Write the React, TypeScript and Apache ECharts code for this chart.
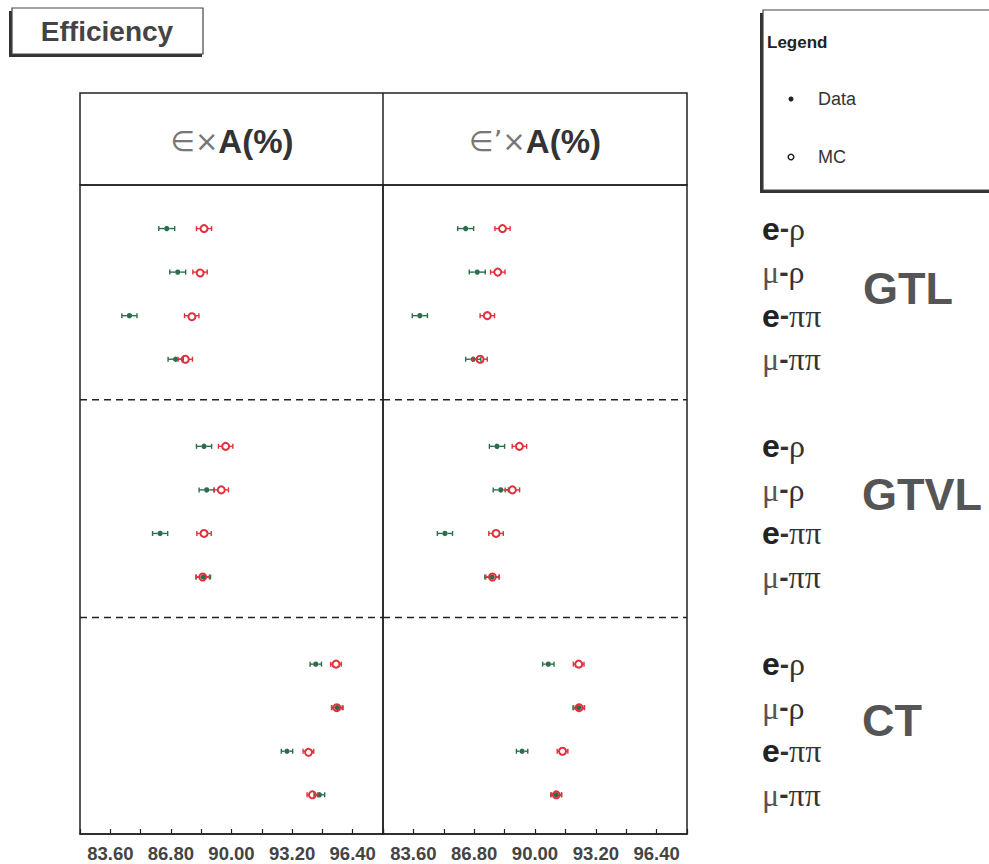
import React, { useEffect, useRef } from "react";
import * as echarts from "echarts";

// ---- data ----
const triggers = ["GTL", "GTVL", "CT"];
const channels = ["e-ρ", "μ-ρ", "e-ππ", "μ-ππ"];
const tickLabels = ["83.60", "86.80", "90.00", "93.20", "96.40"];

// ε×A(%) panel  (order: GTL e-ρ, μ-ρ, e-ππ, μ-ππ, GTVL ..., CT ...)
const effData = [86.58, 87.16, 84.61, 87.05, 88.55, 88.69, 86.23, 88.51, 94.45, 95.59, 92.93, 94.64];
const effDataErr = [0.42, 0.42, 0.4, 0.4, 0.4, 0.4, 0.4, 0.38, 0.3, 0.3, 0.3, 0.28];
const effMC = [88.55, 88.34, 87.9, 87.56, 89.69, 89.46, 88.55, 88.48, 95.52, 95.56, 94.06, 94.27];
const effMCErr = [0.4, 0.38, 0.38, 0.38, 0.38, 0.38, 0.38, 0.35, 0.28, 0.28, 0.28, 0.28];

// ε'×A(%) panel
const effPData = [86.35, 86.96, 83.94, 86.75, 88.0, 88.2, 85.26, 87.74, 90.7, 92.3, 89.32, 91.12];
const effPDataErr = [0.42, 0.42, 0.4, 0.4, 0.4, 0.4, 0.4, 0.38, 0.3, 0.3, 0.3, 0.28];
const effPMC = [88.29, 88.04, 87.49, 87.11, 89.18, 88.81, 87.95, 87.76, 92.3, 92.32, 91.45, 91.12];
const effPMCErr = [0.4, 0.38, 0.38, 0.38, 0.38, 0.38, 0.38, 0.35, 0.28, 0.28, 0.28, 0.28];

const GREEN = "#2c6e4c";
const RED = "#e2303c";
const INK = "#222";

// row position of each point (group * 5 + channel)
const rowOf = (i: number) => Math.floor(i / 4) * 5 + (i % 4);
const toPoints = (vals: number[], errs: number[]) => vals.map((v, i) => [v, rowOf(i), errs[i]]);

function makeRender(kind: "data" | "mc") {
  return (params: any, api: any) => {
    const x = api.value(0);
    const y = api.value(1);
    const e = api.value(2);
    const c = api.coord([x, y]);
    const lo = api.coord([x - e, y]);
    const hi = api.coord([x + e, y]);
    const color = kind === "data" ? GREEN : RED;
    const r = kind === "data" ? 2.7 : 3.5;
    const cap = 2.5;
    const ls = { stroke: color, lineWidth: 1.4 };
    return {
      type: "group",
      children: [
        { type: "line", shape: { x1: lo[0], y1: c[1], x2: c[0] - r, y2: c[1] }, style: ls },
        { type: "line", shape: { x1: c[0] + r, y1: c[1], x2: hi[0], y2: c[1] }, style: ls },
        { type: "line", shape: { x1: lo[0], y1: c[1] - cap, x2: lo[0], y2: c[1] + cap }, style: ls },
        { type: "line", shape: { x1: hi[0], y1: c[1] - cap, x2: hi[0], y2: c[1] + cap }, style: ls },
        kind === "data"
          ? { type: "circle", shape: { cx: c[0], cy: c[1], r }, style: { fill: color } }
          : { type: "circle", shape: { cx: c[0], cy: c[1], r }, style: { fill: "none", stroke: color, lineWidth: 2 } },
      ],
    };
  };
}

const separators = [3.93, 8.93];
const sepRender = (params: any, api: any) => {
  const cs = params.coordSys;
  const p = api.coord([82, api.value(0)]);
  return {
    type: "line",
    shape: { x1: cs.x, y1: p[1], x2: cs.x + cs.width, y2: p[1] },
    style: { stroke: INK, lineWidth: 1.6, lineDash: [7, 5] },
  };
};

export default function App() {
  const ref = useRef<HTMLDivElement>(null);
  useEffect(() => {
    if (!ref.current) return;
    const chart = echarts.init(ref.current, null, { renderer: "svg" });

    const xAxisBase = (gridIndex: number) => ({
      type: "value",
      gridIndex,
      min: 82,
      max: 98,
      interval: 1.6,
      axisLine: { show: true, onZero: false, lineStyle: { color: INK, width: 1.5 } },
      axisTick: { show: true, inside: true, length: 5, lineStyle: { color: INK, width: 1.2 } },
      splitLine: { show: false },
      axisLabel: {
        margin: 10,
        color: "#444",
        fontFamily: "Liberation Sans, Arial, sans-serif",
        fontWeight: "bold",
        fontSize: 18.5,
        formatter: (v: number) => (tickLabels.includes(v.toFixed(2)) ? v.toFixed(2) : ""),
      },
    });

    const channelLabel = (v: number) => {
      const r = Math.round(v);
      if (Math.abs(v - r) > 1e-6 || r < 0) return "";
      const g = Math.floor(r / 5);
      const c = r % 5;
      if (c === 4 || g >= triggers.length) return "";
      const [lep, rest] = channels[c].split("-");
      return `{${lep === "e" ? "e" : "mu"}|${lep}}{d|-}{g|${rest}}`;
    };

    const yAxisBase = (gridIndex: number) => ({
      type: "value",
      gridIndex,
      inverse: true,
      min: -1,
      max: 13.9,
      interval: 1,
      axisLine: { show: false, onZero: false },
      axisTick: { show: false },
      splitLine: { show: false },
      axisLabel: { show: false },
    });

    const group = (name: string, x: number, y: number) => ({
      type: "text",
      x,
      y,
      style: {
        text: name,
        fill: "#555",
        font: "bold 45px 'Liberation Sans', Arial, sans-serif",
        textVerticalAlign: "middle",
      },
    });

    const headerRich = {
      l: { fontFamily: "DejaVu Sans, sans-serif", fontSize: 28, fill: "#777" },
      b: { fontFamily: "Liberation Sans, Arial, sans-serif", fontWeight: "bold", fontSize: 33, fill: "#333" },
    };

    const option: any = {
      animation: false,
      backgroundColor: "#fff",
      grid: [
        { left: 80, top: 185, width: 303, height: 649, show: true, borderColor: INK, borderWidth: 1.5, backgroundColor: "transparent" },
        { left: 383, top: 185, width: 304, height: 649, show: true, borderColor: INK, borderWidth: 1.5, backgroundColor: "transparent" },
      ],
      xAxis: [xAxisBase(0), xAxisBase(1)],
      yAxis: [
        yAxisBase(0),
        {
          ...yAxisBase(1),
          position: "right",
          axisLabel: {
            show: true,
            margin: 75,
            formatter: channelLabel,
            rich: {
              e: { fontFamily: "Liberation Sans, Arial, sans-serif", fontWeight: "bold", fontSize: 32, color: "#222" },
              mu: { fontFamily: "Liberation Serif, serif", fontSize: 32, color: "#555" },
              d: { fontFamily: "Liberation Sans, Arial, sans-serif", fontWeight: "bold", fontSize: 28, color: "#333" },
              g: { fontFamily: "Liberation Serif, serif", fontSize: 32, color: "#333" },
            },
          },
        },
      ],
      series: [
        { type: "custom", name: "sep", xAxisIndex: 0, yAxisIndex: 0, renderItem: sepRender, data: separators.map((s) => [s]), silent: true },
        { type: "custom", name: "sep", xAxisIndex: 1, yAxisIndex: 1, renderItem: sepRender, data: separators.map((s) => [s]), silent: true },
        { type: "custom", name: "Data", xAxisIndex: 0, yAxisIndex: 0, renderItem: makeRender("data"), data: toPoints(effData, effDataErr), encode: { x: 0, y: 1 } },
        { type: "custom", name: "MC", xAxisIndex: 0, yAxisIndex: 0, renderItem: makeRender("mc"), data: toPoints(effMC, effMCErr), encode: { x: 0, y: 1 } },
        { type: "custom", name: "Data", xAxisIndex: 1, yAxisIndex: 1, renderItem: makeRender("data"), data: toPoints(effPData, effPDataErr), encode: { x: 0, y: 1 } },
        { type: "custom", name: "MC", xAxisIndex: 1, yAxisIndex: 1, renderItem: makeRender("mc"), data: toPoints(effPMC, effPMCErr), encode: { x: 0, y: 1 } },
      ],
      graphic: [
        // title box
        { type: "rect", shape: { x: 9, y: 11, width: 193, height: 46 }, style: { fill: "#333" }, z: 1 },
        { type: "rect", shape: { x: 12, y: 8, width: 191, height: 46 }, style: { fill: "#fff", stroke: "#444", lineWidth: 1.2 }, z: 2 },
        {
          type: "text", x: 107, y: 31, z: 3,
          style: { text: "Efficiency", fill: "#444", font: "bold 28px 'Liberation Sans', Arial, sans-serif", textAlign: "center", textVerticalAlign: "middle" },
        },
        // legend box
        { type: "rect", shape: { x: 760, y: 13, width: 229, height: 180 }, style: { fill: "#333" }, z: 1 },
        { type: "rect", shape: { x: 763, y: 10, width: 230, height: 180 }, style: { fill: "#fff", stroke: "#444", lineWidth: 1.2 }, z: 2 },
        {
          type: "text", x: 767, y: 42, z: 3,
          style: { text: "Legend", fill: "#222", font: "bold 17px 'Liberation Sans', Arial, sans-serif", textVerticalAlign: "middle" },
        },
        { type: "circle", shape: { cx: 791, cy: 99, r: 2.5 }, style: { fill: "#222" }, z: 3 },
        {
          type: "text", x: 818, y: 99, z: 3,
          style: { text: "Data", fill: "#333", font: "18px 'Liberation Sans', Arial, sans-serif", textVerticalAlign: "middle" },
        },
        { type: "circle", shape: { cx: 791, cy: 157, r: 2.8 }, style: { fill: "#fff", stroke: "#222", lineWidth: 1.5 }, z: 3 },
        {
          type: "text", x: 818, y: 157, z: 3,
          style: { text: "MC", fill: "#333", font: "18px 'Liberation Sans', Arial, sans-serif", textVerticalAlign: "middle" },
        },
        // header row
        { type: "rect", shape: { x: 80, y: 93, width: 607, height: 92 }, style: { fill: "none", stroke: INK, lineWidth: 1.5 }, z: 3 },
        { type: "line", shape: { x1: 383, y1: 93, x2: 383, y2: 185 }, style: { stroke: INK, lineWidth: 1.5 }, z: 3 },
        {
          type: "text", x: 232, y: 141, z: 3,
          style: { text: "{l|∈×}{b|A(%)}", textAlign: "center", textVerticalAlign: "middle", rich: headerRich },
        },
        {
          type: "text", x: 535, y: 141, z: 3,
          style: { text: "{l|∈’×}{b|A(%)}", textAlign: "center", textVerticalAlign: "middle", rich: headerRich },
        },
        // trigger group names
        group(triggers[0], 863, 288),
        group(triggers[1], 862, 494),
        group(triggers[2], 862, 720),
      ],
    };
    chart.setOption(option);
    return () => chart.dispose();
  }, []);
  return <div ref={ref} style={{ position: "absolute", left: 0, top: 0, width: 989, height: 864 }} />;
}
